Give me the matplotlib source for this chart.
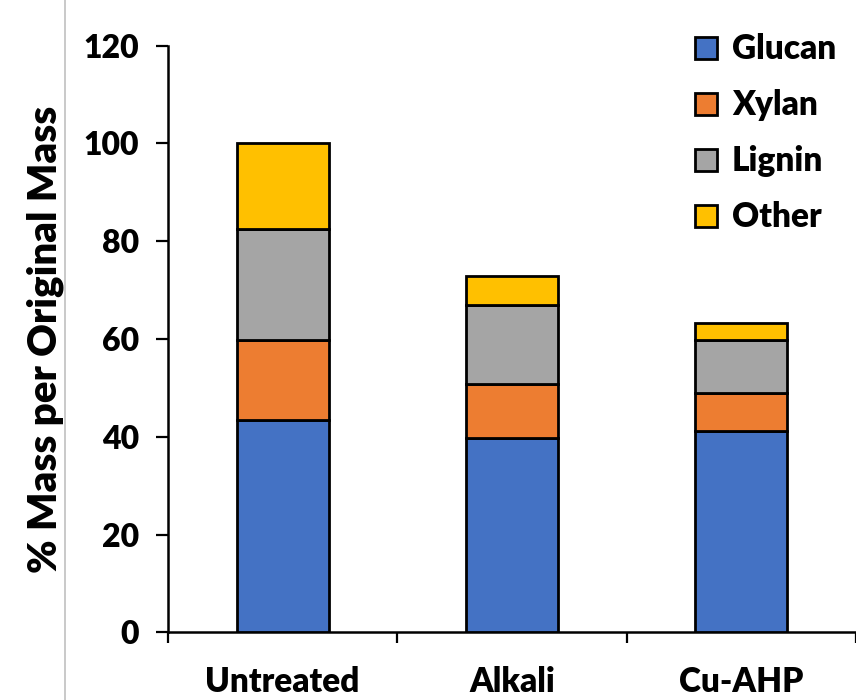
import matplotlib
matplotlib.use("Agg")
import matplotlib.pyplot as plt
import numpy as np
from matplotlib.lines import Line2D

# Composition of each sample, % of original mass
categories = ["Untreated", "Alkali", "Cu-AHP"]
components = ["Glucan", "Xylan", "Lignin", "Other"]
glucan = [43.4, 39.8, 41.2]
xylan = [16.4, 10.9, 7.8]
lignin = [22.8, 16.3, 10.8]
other = [17.4, 5.9, 3.4]
yticks = [0, 20, 40, 60, 80, 100, 120]

colors = ["#4472C4", "#ED7D31", "#A5A5A5", "#FFC000"]
series = [glucan, xylan, lignin, other]

FONT = "Lato"
WEIGHT = "heavy"

fig = plt.figure(figsize=(8.56, 7.0), dpi=100)
ax = fig.add_axes([168 / 856, 1 - 632.3 / 700, (856 - 168) / 856, (632.3 - 45.7) / 700])

x = np.arange(len(categories))
bottom = np.zeros(len(categories))
handles = []
for name, vals, col in zip(components, series, colors):
    bars = ax.bar(x, vals, width=0.4, bottom=bottom, color=col,
                  edgecolor="black", linewidth=2.0, label=name, zorder=3)
    handles.append(bars)
    bottom += np.array(vals)

ax.set_xlim(-0.5, 2.5)
ax.set_ylim(0, 120)
ax.set_yticks(yticks)
ax.set_yticklabels([str(v) for v in yticks], fontsize=23, fontweight=WEIGHT, family=FONT)

# Major x ticks mark category boundaries; labels sit on minor ticks at the centres
ax.set_xticks([-0.5, 0.5, 1.5, 2.5])
ax.set_xticklabels([])
ax.set_xticks(x, minor=True)
ax.set_xticklabels(categories, minor=True, fontsize=24, fontweight=WEIGHT, family=FONT)
ax.tick_params(axis="x", which="minor", length=0, pad=24)
ax.tick_params(axis="x", which="major", direction="out", length=8, width=1.6)
ax.tick_params(axis="y", direction="out", length=9, width=1.6, pad=12)

for s in ["top", "right"]:
    ax.spines[s].set_visible(False)
for s in ["left", "bottom"]:
    ax.spines[s].set_linewidth(1.8)
ax.spines["left"].set_bounds(0, 120)

ax.set_ylabel("% Mass per Original Mass", fontsize=29, fontweight=WEIGHT, family=FONT, labelpad=14)

leg = ax.legend(handles=handles, labels=components, loc="upper right",
                bbox_to_anchor=(1.0, 1.055), frameon=False,
                prop={"family": FONT, "weight": WEIGHT, "size": 24},
                handlelength=0.65, handleheight=0.65, handletextpad=0.45,
                labelspacing=0.72, borderaxespad=0.2)

# thin light rule on the left side of the figure
fig.add_artist(Line2D([65.3 / 856, 65.3 / 856], [0, 1], transform=fig.transFigure,
                      color="#c0c0c0", linewidth=1.2))

fig.savefig("out.png", dpi=100)
